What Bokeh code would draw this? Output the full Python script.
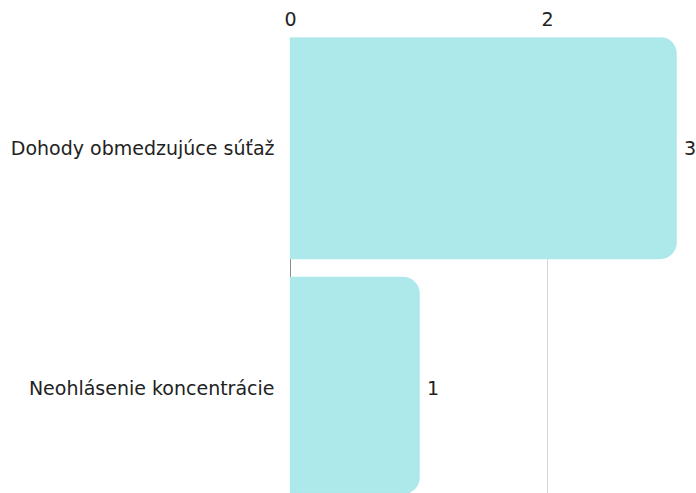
from bokeh.plotting import figure
from bokeh.models import Range1d, FixedTicker, Grid, ColumnDataSource, Span
from bokeh.core.properties import value
from bokeh.embed import file_html
from bokeh.resources import INLINE

categories = ["Dohody obmedzujúce súťaž", "Neohlásenie koncentrácie"]
counts = [3, 1]
x_ticks = [0, 2, 4]

FONT = "DejaVu Sans"
FS = "19px"
BAR = "#ade8ea"
pos = list(range(len(categories)))
src = ColumnDataSource(dict(y=pos, v=counts, lbl=[str(c) for c in counts]))

x0 = -1 / 128.5
p = figure(width=696, height=493, output_backend="svg", toolbar_location=None,
           x_range=Range1d(x0, x0 + 407 / 128.5), y_range=Range1d(1.4396, -0.4604),
           x_axis_location="above", min_border_left=289, min_border_top=37,
           min_border_right=0, min_border_bottom=0)
p.outline_line_color = None
p.background_fill_color = "white"
p.border_fill_color = "white"

p.xgrid.visible = False
p.ygrid.visible = False
g2 = Grid(dimension=0, ticker=FixedTicker(ticks=[2, 4]), grid_line_color="#d6d6d6", grid_line_width=1)
p.add_layout(g2, "center")
p.add_layout(Span(location=0, dimension="height", line_color="#8c8c8c", line_width=1, level="underlay"))

p.hbar(y="y", right="v", left=0, height=0.92, source=src, fill_color=BAR,
       line_color=BAR, line_width=1.5, border_radius=(0, 16, 16, 0))
p.text(x="v", y="y", text="lbl", source=src, x_offset=8, text_align="left",
       text_baseline="middle", text_font=value(FONT), text_font_size=FS,
       text_color="#222222")

xa = p.xaxis[0]
xa.ticker = FixedTicker(ticks=x_ticks)
xa.axis_line_color = None
xa.major_tick_line_color = None
xa.minor_tick_line_color = None
xa.major_label_standoff = 6
xa.major_label_text_font = FONT
xa.major_label_text_font_size = FS
xa.major_label_text_color = "#222222"

ya = p.yaxis[0]
ya.ticker = FixedTicker(ticks=pos)
ya.major_label_overrides = {i: c for i, c in zip(pos, categories)}
ya.axis_line_color = None
ya.major_tick_line_color = None
ya.minor_tick_line_color = None
ya.major_label_standoff = 9
ya.major_label_text_font = FONT
ya.major_label_text_font_size = FS
ya.major_label_text_color = "#222222"

open("out.html", "w").write(file_html(p, INLINE))
